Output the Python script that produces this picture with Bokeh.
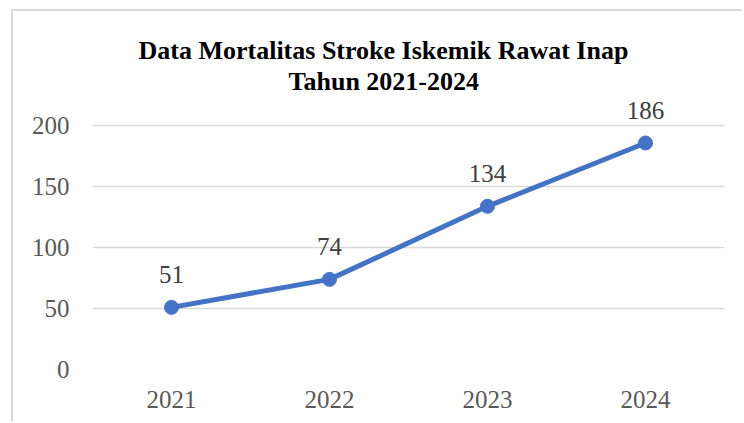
from bokeh.plotting import figure
from bokeh.models import Title, FixedTicker, ColumnDataSource, LabelSet
from bokeh.embed import file_html
from bokeh.resources import INLINE

years = ["2021", "2022", "2023", "2024"]
deaths = [51, 74, 134, 186]
y_ticks = [0, 50, 100, 150, 200]
title_line1 = "Data Mortalitas Stroke Iskemik Rawat Inap"
title_line2 = "Tahun 2021-2024"

FONT = "Liberation Serif"
BLUE = "#4472c4"

src = ColumnDataSource(dict(x=years, y=deaths, label=[str(v) for v in deaths]))

p = figure(x_range=years, y_range=(0, 225), width=731, height=412,
           output_backend="svg", toolbar_location=None,
           min_border_left=79, min_border_right=20, min_border_top=84, min_border_bottom=54,
           margin=(9, 0, 0, 11),
           styles={"border-top": "2px solid #d9d9d9", "border-left": "2px solid #d9d9d9"},
           outline_line_color=None, background_fill_color="white", border_fill_color="white")

p.line("x", "y", source=src, line_width=5, line_color=BLUE)
p.scatter("x", "y", source=src, size=14, fill_color=BLUE, line_color=BLUE)

labels = LabelSet(x="x", y="y", text="label", source=src, y_offset=24,
                  text_align="center", text_baseline="alphabetic",
                  text_font=FONT, text_font_size="25px", text_color="#404040")
p.add_layout(labels)

p.yaxis.ticker = FixedTicker(ticks=y_ticks)
p.ygrid.ticker = FixedTicker(ticks=y_ticks)
p.ygrid.grid_line_color = "#d9d9d9"
p.ygrid.grid_line_width = 1.5
p.xgrid.grid_line_color = None

for ax in (p.xaxis, p.yaxis):
    ax.axis_line_color = None
    ax.major_tick_line_color = None
    ax.minor_tick_line_color = None
    ax.major_tick_out = 0
    ax.major_tick_in = 0
    ax.major_label_text_font = FONT
    ax.major_label_text_font_size = "25px"
    ax.major_label_text_color = "#595959"
p.yaxis.major_label_standoff = 23
p.xaxis.major_label_standoff = 21

# main title (top line); the added Title sits below it, next to the frame
p.title.text = title_line1
p.title.align = "left"
p.title.offset = 46
p.title.text_font = FONT
p.title.text_font_size = "26px"
p.title.text_font_style = "bold"
p.title.text_color = "black"
p.title.standoff = 0

t2 = Title(text=title_line2, align="left", offset=196, text_font=FONT,
           text_font_size="26px", text_font_style="bold", text_color="black", standoff=0)
p.add_layout(t2, "above")

open("out.html", "w").write(file_html(p, INLINE))
